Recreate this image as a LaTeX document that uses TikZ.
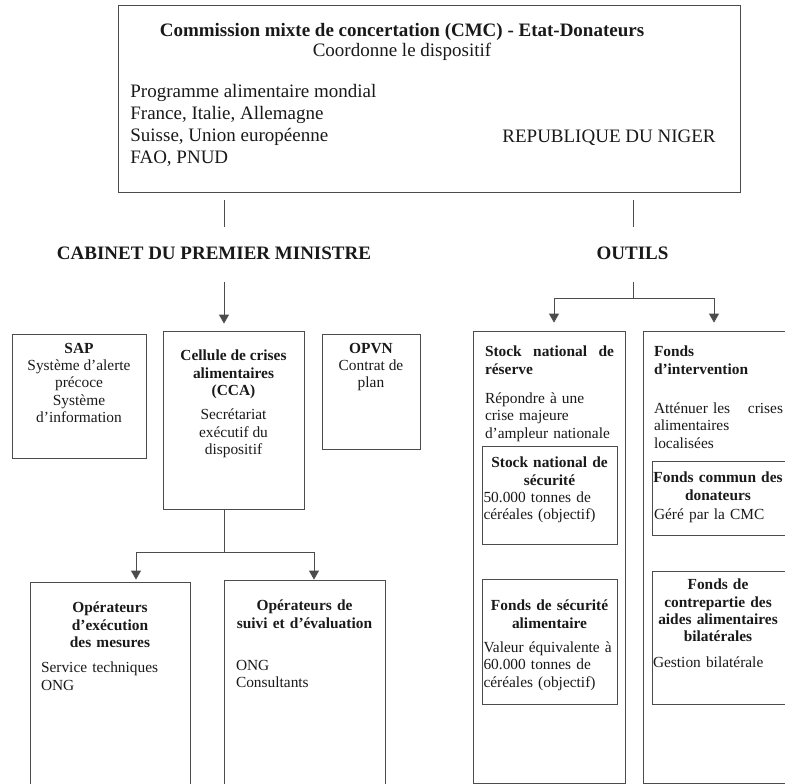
\documentclass[tikz,border=0pt]{standalone}
\usepackage{fontspec}
\setmainfont{Liberation Serif}
\usetikzlibrary{arrows.meta,positioning}
\setlength{\parindent}{0pt}

\tikzset{
  arr/.style={-{Triangle[width=10pt,length=9pt]}},
  boxtxt/.style={inner sep=0pt, text=black!90, font=\fontsize{15.4}{17.4}\selectfont}
}

\begin{document}
\begin{tikzpicture}[x=1pt,y=-1pt,line width=.8pt,draw=black!70]
        \useasboundingbox (0,0) rectangle (785,784);

        \begin{scope}[every node/.style={draw=black!70, rectangle, inner sep=0pt}]
          \node (top)     [minimum width=622, minimum height=187] at (429,98.5) {};
          \node (sap)     [minimum width=134, minimum height=124] at (79,396) {};
          \node (cca)     [minimum width=141, minimum height=178] at (233.5,420) {};
          \node (opvn)    [minimum width=98,  minimum height=115] at (371,391.5) {};
          \node (opexec)  [minimum width=160, minimum height=218] at (110,691) {};
          \node (opsuivi) [minimum width=161, minimum height=220] at (304.5,690) {};
          \node (stock)   [minimum width=152, minimum height=452] at (549,557) {};
          \node (fonds)   [minimum width=162, minimum height=452] at (724,557) {};
          \node (sns)     [minimum width=135, minimum height=98]  at (549.5,495) {};
          \node (fcd)     [minimum width=148, minimum height=74]  at (726,498) {};
          \node (fsa)     [minimum width=135, minimum height=125] at (549.5,641.5) {};
          \node (fcp)     [minimum width=148, minimum height=133] at (726,637.5) {};
        \end{scope}

        \begin{scope}[every node/.style={inner sep=0pt, text=black!90, font=\fontsize{19}{22}\selectfont}]
          \node (cmc) [align=center, font=\fontsize{19}{20}\selectfont] at (402,41.5)
            {\textbf{Commission mixte de concertation (CMC) - Etat-Donateurs}\\Coordonne le dispositif};
          \node (membres) [align=left, anchor=north west] at (130,84)
            {Programme alimentaire mondial\\France, Italie, Allemagne\\Suisse, Union européenne\\FAO, PNUD};
          \node (niger) [anchor=base west] at (502,142.5) {REPUBLIQUE DU NIGER};
          \node (cab) [anchor=base, font=\fontsize{19}{22}\selectfont\bfseries] at (214,259.3) {CABINET DU PREMIER MINISTRE};
          \node (out) [anchor=base, font=\fontsize{19}{22}\selectfont\bfseries] at (632.5,259.3) {OUTILS};
        \end{scope}

        \begin{scope}[every node/.style={boxtxt}]
          \node (saptxt) [align=center, below=9pt of sap.north]
            {\textbf{SAP}\\Système d'alerte\\précoce\\Système\\d'information};
          \node (ccatxt) [align=center, below=19pt of cca.north]
            {\textbf{Cellule de crises}\\\textbf{alimentaires}\\\textbf{(CCA)}\\[7pt]Secrétariat\\exécutif du\\dispositif};
          \node (opvntxt) [align=center, below=9pt of opvn.north]
            {\textbf{OPVN}\\Contrat de\\plan};
          \node (opexectxt) [text width=138pt, below right=20pt and 11pt of opexec.north west]
            {{\centering\bfseries Opérateurs\\d'exécution\\des mesures\par}\vspace{8pt}Service techniques\\ONG};
          \node (opsuivitxt) [text width=137pt, below right=20pt and 12pt of opsuivi.north west]
            {{\centering\bfseries Opérateurs de\\suivi et d'évaluation\par}\vspace{25pt}ONG\\Consultants};
          \node (stocktxt) [text width=129pt, below right=15pt and 12pt of stock.north west]
            {{\bfseries Stock\hfill national\hfill de\\réserve\par}\vspace{12pt}Répondre à une\\crise majeure\\d'ampleur nationale};
          \node (fondstxt) [text width=129pt, below right=15pt and 11pt of fonds.north west]
            {{\bfseries Fonds\\d'intervention\par}\vspace{22pt}Atténuer les\hfill crises\\alimentaires\\localisées};
          \node (snstxt) [text width=132pt, below right=11pt and 1.5pt of sns.north west]
            {{\centering\bfseries Stock national de\\sécurité\par}50.000 tonnes de\\céréales (objectif)};
          \node (fcdtxt) [text width=128pt, below right=11pt and 2pt of fcd.north west]
            {{\centering\bfseries\makebox[\linewidth]{Fonds commun des}\\donateurs\par}\vspace{2pt}Géré par la CMC};
          \node (fsatxt) [text width=132pt, below right=21pt and 1.5pt of fsa.north west]
            {{\centering\bfseries Fonds de sécurité\\alimentaire\par}\vspace{7pt}Valeur équivalente à\\60.000 tonnes de\\céréales (objectif)};
          \node (fcptxt) [text width=130pt, below right=8pt and 1pt of fcp.north west]
            {{\centering\bfseries Fonds de\\contrepartie des\\aides alimentaires\\bilatérales\par}\vspace{8pt}Gestion bilatérale};
        \end{scope}

        \coordinate (ccaj) at (224,552);
        \coordinate (outj) at (633,298);

        \draw[shorten <=8pt, shorten >=19pt] (top.south -| ccaj) -- (cab.north -| ccaj);
        \draw[shorten <=8pt, shorten >=19pt] (top.south -| outj) -- (out.north -| outj);
        \draw[arr, shorten <=22pt, shorten >=7pt] (cab.south -| ccaj) -- (cca.north -| ccaj);
        \draw[shorten <=22pt] (out.south -| outj) -- (outj);
        \draw[arr, shorten >=8pt] (outj) -| ([xshift=5pt]stock.north);
        \draw[arr, shorten >=8pt] (outj) -| ([xshift=-10pt]fonds.north);
        \draw (cca.south -| ccaj) -- (ccaj);
        \draw[arr, shorten >=2pt] (ccaj) -| ([xshift=26pt]opexec.north);
        \draw[arr] (ccaj) -| ([xshift=9.5pt]opsuivi.north);

      \end{tikzpicture}
\end{document}
